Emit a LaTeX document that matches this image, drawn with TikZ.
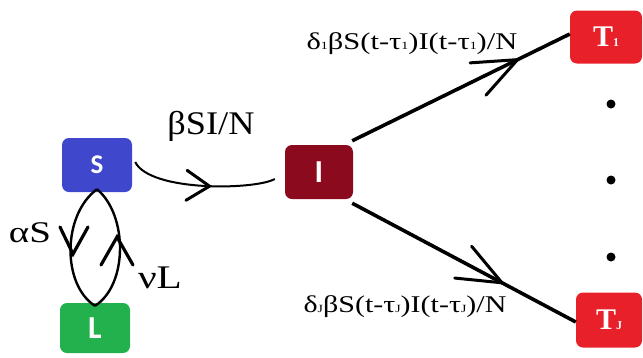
\documentclass[tikz,border=0pt]{standalone}
\usepackage{fontspec}
\setmainfont{Liberation Serif}
\newfontfamily\boxfont{Carlito}
\usetikzlibrary{decorations.markings}
\definecolor{sblue}{HTML}{3F48CC}
\definecolor{idark}{HTML}{8C0A1E}
\definecolor{tred}{HTML}{E8202A}
\definecolor{lgreen}{HTML}{22B14C}
\newcommand{\sbx}[1]{{\fontsize{11}{11}\selectfont #1}}
\newcommand{\tsb}[1]{{\fontsize{12}{12}\selectfont #1}}
\newcommand{\wide}[2]{\scalebox{#1}[1]{#2}}
\tikzset{
  comp/.style={rounded corners=7pt, inner sep=0pt, text=white, font=\boxfont\bfseries\fontsize{32}{32}\selectfont},
  tbox/.style={comp, font=\bfseries\fontsize{30}{30}\selectfont},
  lab/.style={inner sep=0pt},
  vhead/.style n args={3}{postaction={decorate,decoration={markings,mark=at position #1 with {\draw[line width=3pt, line cap=round, line join=miter] (-#2pt,-#3pt) -- (0pt,0pt) -- (-#2pt,#3pt);}}}},
  vmark/.style={line width=3.2pt, line cap=round, line join=miter},
  flow/.style={line width=2pt},
  loopline/.style={line width=2.4pt},
  thick flow/.style={line width=3.6pt},
}
\begin{document}
\begin{tikzpicture}[x=1pt,y=-1pt]
\useasboundingbox (0,0) rectangle (643,357);
\node[comp, fill=sblue, minimum width=70pt, minimum height=54pt, font=\boxfont\bfseries\fontsize{27}{27}\selectfont] (S) at (97,165) {S};
\node[comp, fill=lgreen, minimum width=70pt, minimum height=50pt] (L) at (95,328) {L};
\node[comp, fill=idark, minimum width=68pt, minimum height=54pt] (I) at (319,172) {I};
\node[tbox, fill=tred, minimum width=72pt, minimum height=53pt] (T1) at (606,37) {T\tsb{1}};
\node[tbox, fill=tred, minimum width=66pt, minimum height=55pt] (TJ) at (609,320) {T\tsb{J}};
\fill (611,104) circle (4.5pt);
\fill (611,180) circle (4.5pt);
\fill (611,257) circle (4.5pt);
% S -> I
\draw[flow, vhead={0.55}{23}{15}] ([xshift=3pt,yshift=3pt]S.east) .. controls (150,192) and (255,190) .. ([xshift=-10pt,yshift=-7pt]I.west);
% I -> T
\draw[thick flow, vhead={0.76}{44}{18}] ([xshift=-1pt,yshift=4pt]I.north east) -- ([yshift=3pt]T1.west);
\draw[thick flow, vhead={0.67}{44}{18}] ([xshift=-1pt,yshift=-4pt]I.south east) -- ([yshift=-2pt]TJ.west);
% S <-> L loop
\draw[loopline] ([yshift=3pt]S.south) .. controls (62,215) and (62,285) .. ([yshift=-3pt]L.north);
\draw[loopline] ([yshift=-3pt]L.north) .. controls (128,285) and (128,215) .. ([yshift=3pt]S.south);
\draw[vmark] (60,227) -- (73,254) -- (88,227);
\draw[vmark] (101,265) -- (117,237) -- (133,265);
% labels
\node[lab, font=\fontsize{33}{33}\selectfont] (bsi) at (211,126) {\wide{1.1}{βSI/N}};
\node[lab, font=\fontsize{24}{24}\selectfont] (top) at (412,44) {\wide{1.27}{δ\sbx{1}βS(t-τ\sbx{1})I(t-τ\sbx{1})/N}};
\node[lab, font=\fontsize{24}{24}\selectfont] (bot) at (405,307) {\wide{1.25}{δ\sbx{J}βS(t-τ\sbx{J})I(t-τ\sbx{J})/N}};
\node[lab, font=\fontsize{30}{30}\selectfont] (aS) at (30,233) {\wide{1.3}{αS}};
\node[lab, font=\fontsize{33}{33}\selectfont] (nL) at (160,278) {\wide{1.25}{νL}};
\end{tikzpicture}
\end{document}
